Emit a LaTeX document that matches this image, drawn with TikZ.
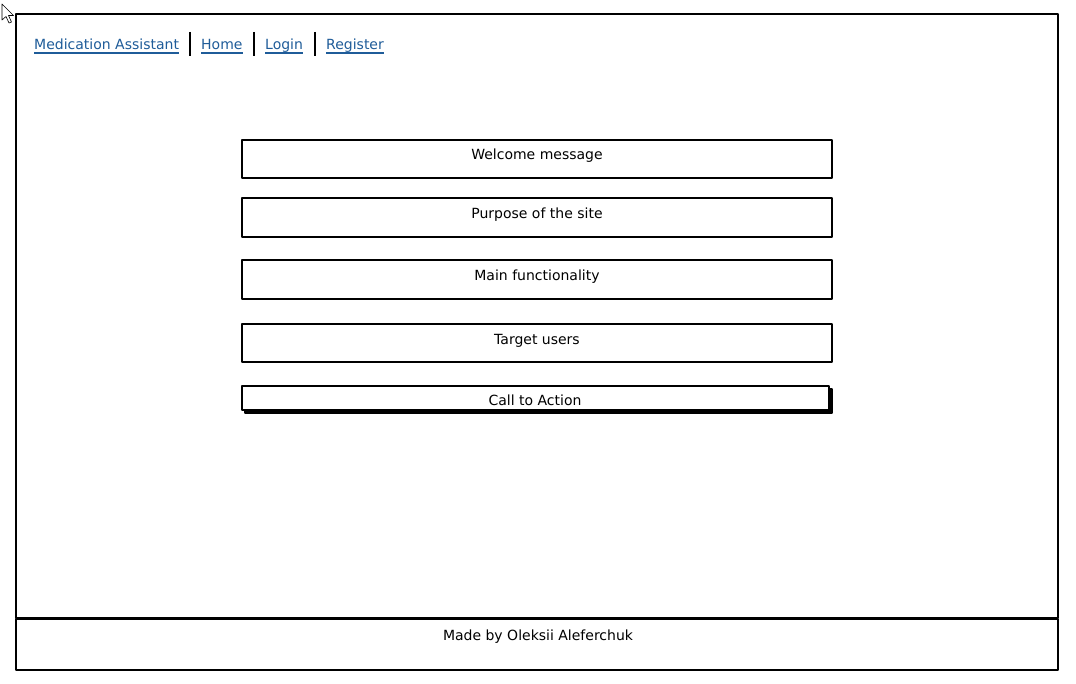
\documentclass[tikz,border=0pt]{standalone}
\usepackage{fontspec}
\setmainfont{DejaVu Sans}
\usetikzlibrary{positioning}
\definecolor{linkblue}{HTML}{1F5C99}

\begin{document}
\begin{tikzpicture}[x=1pt, y=-1pt, line join=round,
        frame/.style={draw, line width=2.4pt, inner sep=0pt, fill=white},
        panel/.style={frame, minimum width=590pt},
        caption/.style={font=\fontsize{14}{16}\selectfont, anchor=base, inner sep=0pt},
        navlink/.style={caption, anchor=base west, text=linkblue}]
        \useasboundingbox (0,0) rectangle (1076,684);
        % mouse pointer in the corner
        \draw[fill=white, line width=0.6pt] (2,4) -- (2,20) -- (6,16.5) -- (9,23)
            -- (11.5,22) -- (8.5,15.5) -- (13.5,15.5) -- cycle;

        % page and footer
        \node[frame, minimum width=1042pt, minimum height=604pt] (page) at (537,316) {};
        \node[frame, minimum width=1042pt, minimum height=51pt] (footer) at (537,644.5) {};
        \node[caption] (credit) at (538,640) {Made by Oleksii Aleferchuk};

        % navigation bar
        \node[navlink] (brand) at (34,50) {Medication Assistant};
        \node[navlink] (home) at (201,50) {Home};
        \node[navlink] (login) at (265,50) {Login};
        \node[navlink] (register) at (326,50) {Register};
        \foreach \n in {brand, home, login, register}
            \draw[linkblue, line width=1.3pt] ([yshift=-3pt]\n.base west) -- ([yshift=-3pt]\n.base east);
        % separators between links
        \foreach \x in {190, 254, 315}
            \draw[line width=2.6pt] (\x,32) -- (\x,56);

        % content sections
        \node[panel, minimum height=38pt] (welcome) at (537,159) {};
        \node[panel, minimum height=39pt] (purpose) at (537,217.5) {};
        \node[panel, minimum height=39pt] (features) at (537,279.5) {};
        \node[panel, minimum height=38pt] (users) at (537,343) {};
        \node[caption, yshift=-21pt] (welcometext) at (welcome.north) {Welcome message};
        \node[caption, yshift=-22pt] (purposetext) at (purpose.north) {Purpose of the site};
        \node[caption, yshift=-22pt] (featurestext) at (features.north) {Main functionality};
        \node[caption, yshift=-22pt] (userstext) at (users.north) {Target users};

        % call to action button with shadow
        \node[frame, fill=black, minimum width=587pt, minimum height=24pt] (ctashadow) at (538.5,401) {};
        \node[frame, minimum width=587pt, minimum height=24pt] (cta) at (535.5,398) {};
        \node[caption] (ctatext) at (535,405) {Call to Action};
    \end{tikzpicture}
\end{document}
